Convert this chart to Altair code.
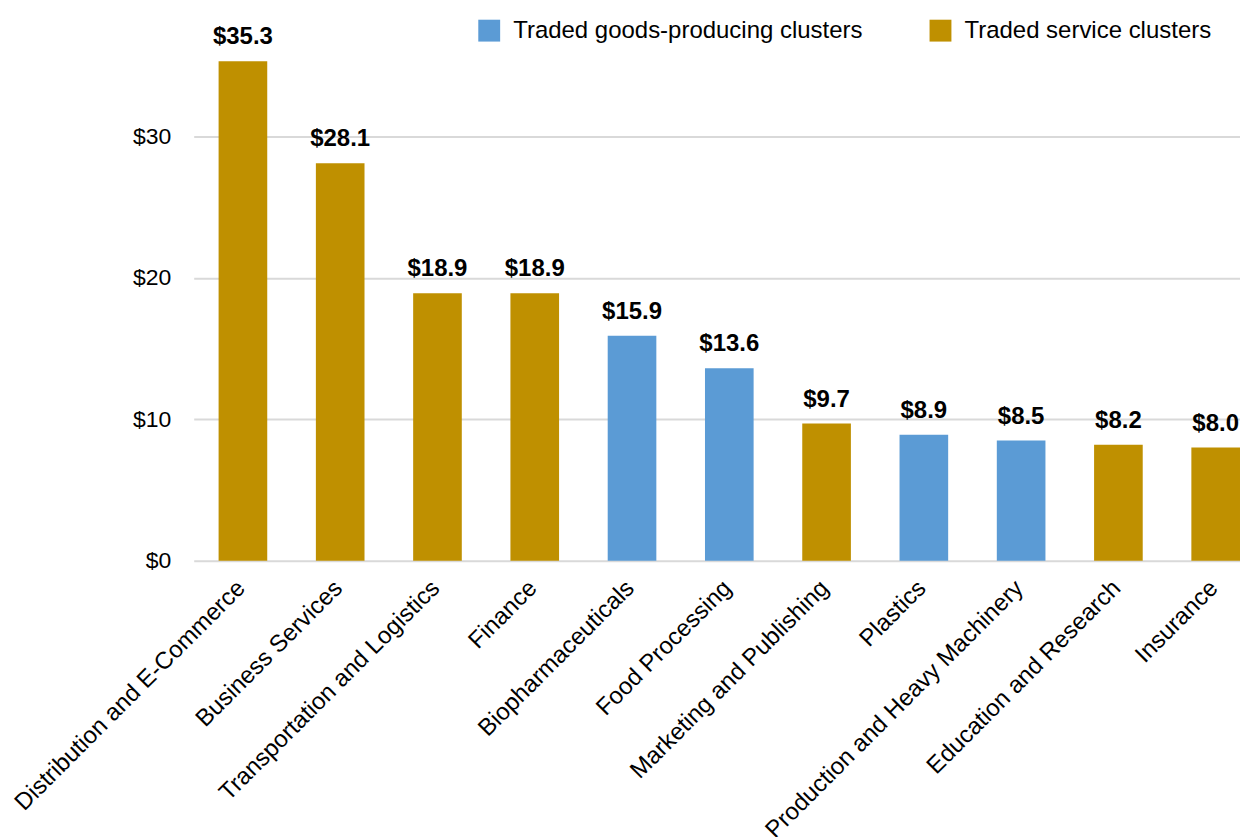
import altair as alt
import pandas as pd

categories = ["Distribution and E-Commerce", "Business Services", "Transportation and Logistics",
              "Finance", "Biopharmaceuticals", "Food Processing", "Marketing and Publishing",
              "Plastics", "Production and Heavy Machinery", "Education and Research", "Insurance"]
values = [35.3, 28.1, 18.9, 18.9, 15.9, 13.6, 9.7, 8.9, 8.5, 8.2, 8.0]
groups = ["Traded service clusters", "Traded service clusters", "Traded service clusters",
          "Traded service clusters", "Traded goods-producing clusters", "Traded goods-producing clusters",
          "Traded service clusters", "Traded goods-producing clusters", "Traded goods-producing clusters",
          "Traded service clusters", "Traded service clusters"]
legend_names = ["Traded goods-producing clusters", "Traded service clusters"]
legend_colors = ["#5B9BD5", "#BF9000"]
y_ticks = [0, 10, 20, 30]

df = pd.DataFrame({"cat": categories, "value": values, "group": groups})

FONT = "Liberation Sans"

x = alt.X("cat:N", sort=categories, title=None,
          scale=alt.Scale(paddingInner=0.5, paddingOuter=0.128, align=1),
          axis=alt.Axis(labelAngle=-45, labelFontSize=24, labelColor="black", labelFont=FONT,
                        domain=False, ticks=False, labelPadding=15, labelOffset=-10, labelLimit=500))
y = alt.Y("value:Q", title=None, scale=alt.Scale(domain=[0, 38.1], nice=False),
          axis=alt.Axis(values=y_ticks, labelExpr="'$' + datum.value", labelFontSize=23,
                        labelColor="black", labelFont=FONT, domain=False, ticks=False,
                        labelPadding=23, gridColor="#d9d9d9", gridWidth=2))

bars = alt.Chart(df).mark_bar().encode(
    x=x, y=y,
    color=alt.Color("group:N", scale=alt.Scale(domain=legend_names, range=legend_colors), title=None,
                    legend=alt.Legend(orient="none", legendX=284, legendY=-3, direction="horizontal",
                                      symbolType="square", symbolSize=480, symbolStrokeWidth=0,
                                      labelFontSize=24, labelFont=FONT, labelColor="black",
                                      labelLimit=600, columnPadding=66, symbolOffset=0,
                                      labelOffset=12))
)

labels = alt.Chart(df).transform_calculate(
    label="'$' + format(datum.value, '.1f')"
).mark_text(fontSize=24, fontWeight="bold", font=FONT, color="black", baseline="alphabetic", dy=-17).encode(
    x=alt.X("cat:N", sort=categories), y="value:Q", text="label:N"
)

chart = (bars + labels).properties(
    width=1048, height=540, padding={"left": 2, "top": 10, "right": 0, "bottom": 0}
).configure_view(stroke=None)

chart.save("out.html", embed_options={"renderer": "svg", "actions": False})
